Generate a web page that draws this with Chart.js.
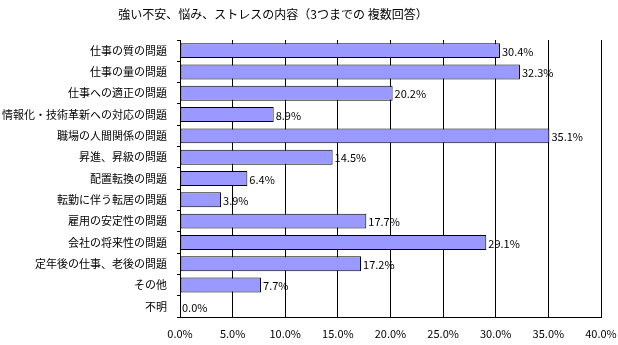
<!DOCTYPE html>
<html>
<head>
<meta charset="utf-8">
<script src="https://cdn.jsdelivr.net/npm/chart.js@4"></script>
<style>
  html, body { margin: 0; padding: 0; background: #fff; }
  #wrap { width: 618px; height: 345px; }
</style>
</head>
<body>
<div id="wrap"><canvas id="chart" width="618" height="345"></canvas></div>
<script>
// chart data
const title = '強い不安、悩み、ストレスの内容（3つまでの 複数回答）';
const categories = [
    '仕事の質の問題',
    '仕事の量の問題',
    '仕事への適正の問題',
    '情報化・技術革新への対応の問題',
    '職場の人間関係の問題',
    '昇進、昇級の問題',
    '配置転換の問題',
    '転勤に伴う転居の問題',
    '雇用の安定性の問題',
    '会社の将来性の問題',
    '定年後の仕事、老後の問題',
    'その他',
    '不明'
];
const values = [30.4, 32.3, 20.2, 8.9, 35.1, 14.5, 6.4, 3.9, 17.7, 29.1, 17.2, 7.7, 0.0];
const xTicks = [0, 5, 10, 15, 20, 25, 30, 35, 40];

const FONT = "'Noto Sans CJK JP', 'Noto Sans', sans-serif";

// value labels at the end of each bar
const barLabels = {
    id: 'barLabels',
    afterDatasetsDraw(chart) {
        const ctx = chart.ctx;
        const meta = chart.getDatasetMeta(0);
        ctx.save();
        ctx.font = '11px ' + FONT;
        ctx.fillStyle = '#000';
        ctx.textBaseline = 'middle';
        ctx.textAlign = 'left';
        meta.data.forEach((bar, i) => {
            ctx.fillText(values[i].toFixed(1) + '%', bar.x + 2, bar.y + 1);
        });
        ctx.restore();
    }
};

// title, placed a little left of centre like the original
const titleText = {
    id: 'titleText',
    afterDraw(chart) {
        const ctx = chart.ctx;
        ctx.save();
        ctx.font = '12px ' + FONT;
        ctx.fillStyle = '#000';
        ctx.textAlign = 'center';
        ctx.textBaseline = 'middle';
        ctx.fillText(title, 273, 14);
        ctx.restore();
    }
};

new Chart(document.getElementById('chart').getContext('2d'), {
    type: 'bar',
    data: {
        labels: categories,
        datasets: [{
            data: values,
            backgroundColor: '#9999ff',
            borderColor: '#000',
            borderWidth: 1,
            borderSkipped: false,
            categoryPercentage: 1,
            barPercentage: 0.7
        }]
    },
    options: {
        indexAxis: 'y',
        responsive: false,
        animation: false,
        layout: { padding: { top: 40, right: 0, left: 0, bottom: 0 } },
        plugins: {
            legend: { display: false },
            tooltip: { enabled: false },
            title: { display: false }
        },
        scales: {
            x: {
                min: 0,
                max: 40,
                afterBuildTicks: (scale) => { scale.ticks = xTicks.map(v => ({ value: v })); },
                afterFit: (scale) => {
                    scale.height = 28;
                    scale.paddingRight = 17;
                    scale.paddingLeft = 0;
                },
                ticks: {
                    font: { family: FONT, size: 11 },
                    color: '#000',
                    padding: 10,
                    maxRotation: 0,
                    callback: (v) => Number(v).toFixed(1) + '%'
                },
                grid: {
                    color: '#000',
                    lineWidth: 1,
                    drawTicks: false
                },
                border: { color: '#000', width: 1 }
            },
            y: {
                afterFit: (scale) => { scale.width = 180; },
                ticks: {
                    font: { family: FONT, size: 11 },
                    color: '#000',
                    padding: 10,
                    autoSkip: false
                },
                grid: {
                    offset: true,
                    drawOnChartArea: false,
                    drawTicks: true,
                    tickLength: 3,
                    color: '#000'
                },
                border: { color: '#000', width: 1 }
            }
        }
    },
    plugins: [barLabels, titleText]
});
</script>
</body>
</html>
